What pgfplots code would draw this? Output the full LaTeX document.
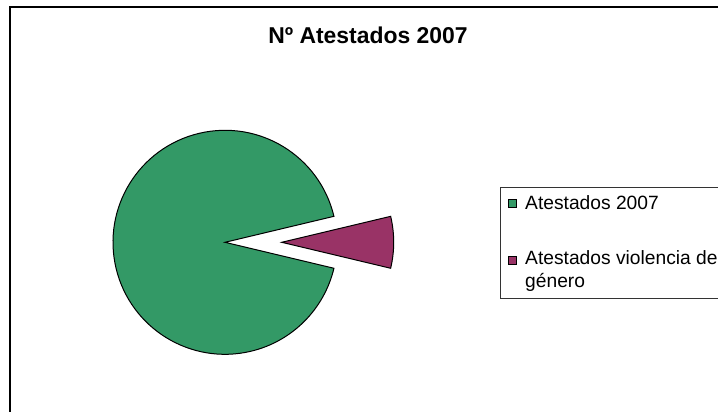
\documentclass[border=0pt]{standalone}
\usepackage{pgfplots}
\pgfplotsset{compat=1.18}
\usepackage{pgfplotstable}
\usepackage{fontspec}
\setmainfont{Liberation Sans}
\definecolor{pgreen}{HTML}{339966}
\definecolor{ppurple}{HTML}{993366}
\pgfplotstableread{
label value explode
Atestados2007 92.55 0
Violencia 7.45 56.7
}\piedata
\begin{document}%
\begin{tikzpicture}
\pgfplotstablegetelem{0}{value}\of\piedata\let\va\pgfplotsretval
\pgfplotstablegetelem{1}{value}\of\piedata\let\vb\pgfplotsretval
\pgfplotstablegetelem{1}{explode}\of\piedata\let\ex\pgfplotsretval
\pgfmathsetmacro\half{180*\vb/(\va+\vb)}
\pgfmathsetmacro\gend{360-\half}
\path[use as bounding box, clip] (0,0) rectangle (718bp,412bp);
\begin{axis}[at={(0,0)}, anchor=origin, x=1bp, y=1bp,
  xmin=0, xmax=718, ymin=0, ymax=412, hide axis, clip=false]
  \filldraw[fill=pgreen, draw=black, line width=1bp, line join=miter]
    (axis cs:225,169.7) -- ++(\half:112bp) arc[start angle=\half, end angle=\gend, radius=112bp] -- cycle;
  \filldraw[fill=ppurple, draw=black, line width=1bp, line join=miter]
    (axis cs:225,169.7) ++(0:\ex bp) -- ++(-\half:112bp) arc[start angle=-\half, end angle=\half, radius=112bp] -- cycle;
\end{axis}
\draw[line width=1.8bp] (10bp,-20bp) rectangle (780bp,405bp);
\node[font=\bfseries\fontsize{23}{26}\selectfont, anchor=base, inner sep=0pt] at (368bp,368bp) {Nº Atestados 2007};
\draw[line width=0.8bp, draw=black!80] (500bp,224.7bp) rectangle (780bp,113.7bp);
\filldraw[fill=pgreen, draw=black, line width=0.8bp] (508.3bp,204.7bp) rectangle (516.3bp,212.7bp);
\filldraw[fill=ppurple, draw=black, line width=0.8bp] (508.3bp,147.7bp) rectangle (516.3bp,155.7bp);
\node[font=\fontsize{19.3}{22.4}\selectfont, anchor=base west, inner sep=0pt] at (525bp,202bp) {Atestados 2007};
\node[font=\fontsize{19.3}{22.4}\selectfont, anchor=base west, inner sep=0pt] at (525bp,147bp) {Atestados violencia de};
\node[font=\fontsize{19.3}{22.4}\selectfont, anchor=base west, inner sep=0pt] at (525bp,124.6bp) {género};
\end{tikzpicture}%
\end{document}
